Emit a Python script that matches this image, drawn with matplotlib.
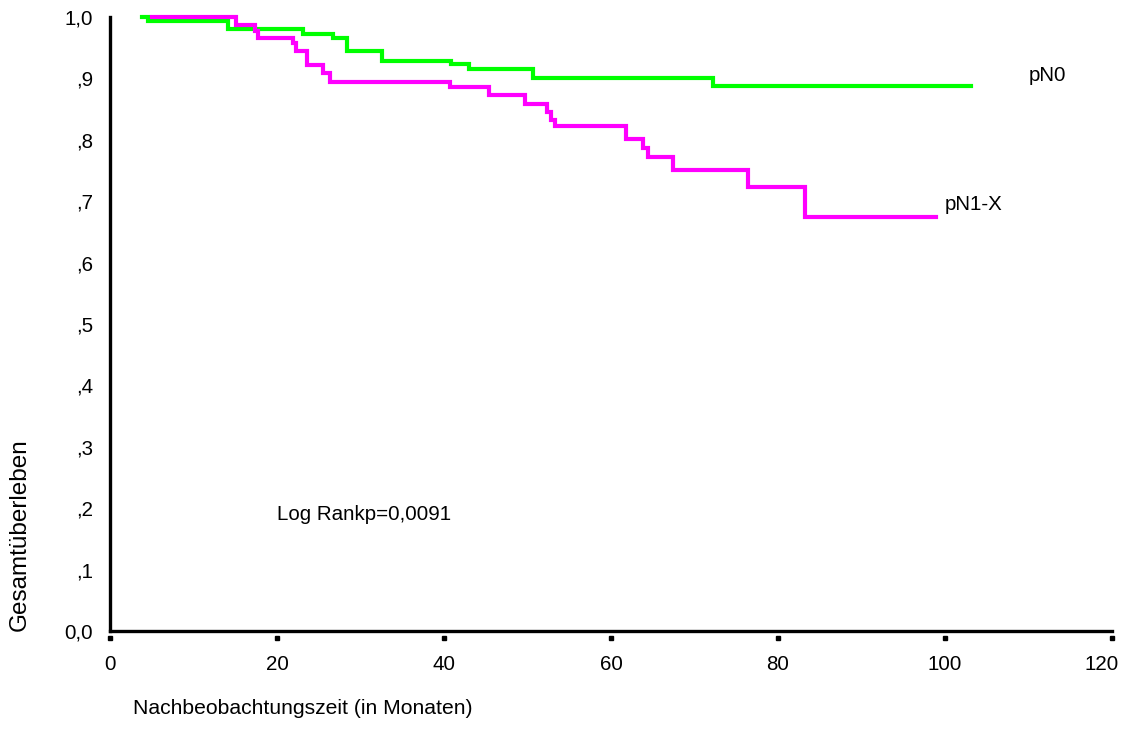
import matplotlib
matplotlib.use("Agg")
import matplotlib.pyplot as plt
from matplotlib.transforms import ScaledTranslation

plt.rcParams['font.family'] = ['Liberation Sans', 'DejaVu Sans']

# pN0 (green) Kaplan-Meier steps
pn0_time = [3.8, 4.55, 14.1, 23.1, 26.7, 28.4, 32.6, 40.8, 43.0, 50.7, 72.2, 103.1]
pn0_surv = [1.0, 0.993, 0.980, 0.972, 0.965, 0.945, 0.928, 0.923, 0.915, 0.901, 0.888, 0.888]

# pN1-X (magenta) Kaplan-Meier steps
pn1_time = [5.0, 15.1, 17.4, 17.7, 21.9, 22.3, 23.6, 25.5, 26.3, 40.7, 45.4, 49.7,
            52.3, 52.8, 53.3, 61.8, 63.8, 64.4, 67.4, 76.4, 83.2, 98.9]
pn1_surv = [1.0, 0.987, 0.978, 0.965, 0.958, 0.944, 0.922, 0.908, 0.894, 0.886, 0.873, 0.859,
            0.846, 0.832, 0.822, 0.802, 0.786, 0.772, 0.751, 0.723, 0.674, 0.674]

x_ticks = [0, 20, 40, 60, 80, 100, 120]
y_ticks = [0.0, 0.1, 0.2, 0.3, 0.4, 0.5, 0.6, 0.7, 0.8, 0.9, 1.0]
y_labels = ["0,0", ",1", ",2", ",3", ",4", ",5", ",6", ",7", ",8", ",9", "1,0"]

fig = plt.figure(figsize=(11.26, 7.4), dpi=100)
ax = fig.add_axes([110/1126, 1 - 631/740, 1002/1126, 614/740])

ax.plot(pn0_time, pn0_surv, drawstyle='steps-post', color='#00ff00', lw=3, clip_on=False,
        solid_joinstyle='miter')
ax.plot(pn1_time, pn1_surv, drawstyle='steps-post', color='#ff00ff', lw=3, clip_on=False,
        solid_joinstyle='miter')

ax.set_xlim(0, 120)
ax.set_ylim(0, 1)

for s in ['top', 'right']:
    ax.spines[s].set_visible(False)
for s in ['left', 'bottom']:
    ax.spines[s].set_linewidth(2.4)
    ax.spines[s].set_color('black')

ax.set_xticks(x_ticks)
ax.set_xticklabels([str(v) for v in x_ticks], fontsize=14.8)
ax.tick_params(axis='x', length=0, pad=17)
ax.set_yticks(y_ticks)
ax.set_yticklabels(y_labels, fontsize=14.8)
ax.tick_params(axis='y', length=0, pad=12)

# shift the outermost x tick label left so it fits like in the reference
last = ax.get_xticklabels()[-1]
last.set_transform(last.get_transform() + ScaledTranslation(-10/100, 0, fig.dpi_scale_trans))

# small square tick marks below the x-axis
ax.plot(x_ticks, [-0.012] * len(x_ticks), linestyle='none', marker='s', markersize=3,
        color='black', transform=ax.get_xaxis_transform(), clip_on=False)

ax.text(110.0, 0.904, "pN0", fontsize=14.8, ha='left', va='center')
ax.text(100.0, 0.694, "pN1-X", fontsize=14.8, ha='left', va='center')
ax.text(20.0, 0.189, "Log Rankp=0,0091", fontsize=14.8, ha='left', va='center')

fig.text(20/1126, 1 - 535/740, "Gesamtüberleben", rotation=90, fontsize=17.5,
         ha='center', va='center')
fig.text(133/1126, 1 - 708/740, "Nachbeobachtungszeit (in Monaten)", fontsize=15.2,
         ha='left', va='center')

fig.savefig("out.png", dpi=100, facecolor='white')
